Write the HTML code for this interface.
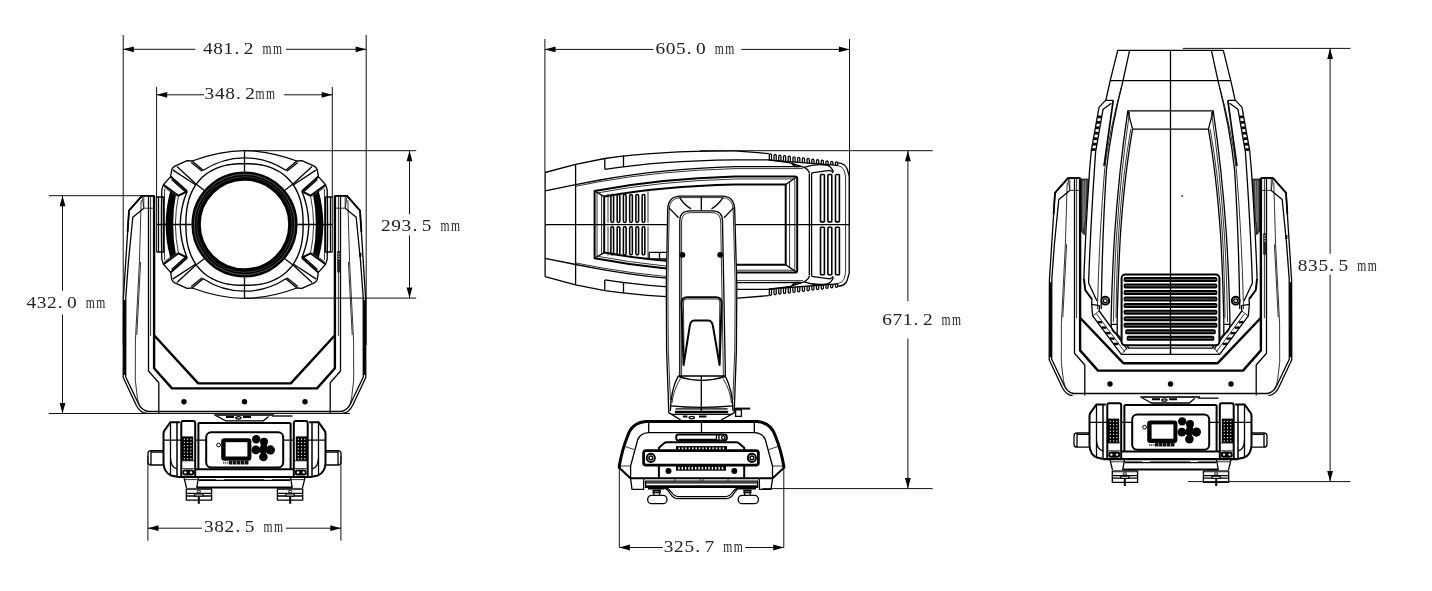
<!DOCTYPE html>
<html><head><meta charset="utf-8"><title>Dimensions</title><style>
html,body{margin:0;padding:0;background:#fff;}
body{width:1432px;height:591px;overflow:hidden;font-family:"Liberation Serif",serif;}
svg{display:block}
.t{fill:none;stroke:#111;stroke-width:.85}
.n{fill:none;stroke:#000;stroke-width:1.3}
.k{fill:none;stroke:#000;stroke-width:2.0}
.h{fill:none;stroke:#000;stroke-width:2.6}
.f{fill:#000;stroke:none}
.w{fill:#fff}
.dim path{fill:none;stroke:#111;stroke-width:1}
.af{fill:#000}
.dt{font-family:"Liberation Serif",serif;fill:#222}
</style></head><body>
<svg width="1432" height="591" viewBox="0 0 1432 591" stroke-linejoin="round" stroke-linecap="butt">
<rect width="1432" height="591" fill="#fff"/>
<g id="headfront">
<path class="n" d="M244.5,150.6 Q219.7,150.8 192.1,161 L187.1,160.6 L174.8,166.1 Q172.4,167.6 171.8,169.4 L170.6,176.6 L163.4,184.7 L161.8,189.8 Q161.4,207 161.4,224.5"/><path class="n" d="M244.5,157.8 Q222,157.9 203.2,170.3 L192.1,161"/><path class="n" d="M202.2,171.2 L191.2,162.6"/><path class="n" d="M176.9,166.5 L196,184 L204.2,190.2"/><path class="n" d="M172.7,169.9 L195.4,184.8"/><path class="k" d="M170.6,176.6 L187.1,191.3"/><path class="n" d="M171.6,179.4 L185.6,191.9"/><path class="k" d="M163.4,184.7 L178.5,195.7 L187.1,191.3"/><path class="t" d="M164.4,187.4 L176.6,196.2"/><path class="k" d="M187.1,191.3 Q180.6,207 180.2,224.5" style="stroke-width:1.4"/><path class="t" d="M178.5,195.7 Q175.6,209 175.4,224.5"/><path class="t" d="M164.6,189 Q164.4,207 164.4,224.5"/><path class="f" d="M170.3,191 Q165.8,207 165.6,224.5 H173.2 Q173.2,209 175.8,195.4 Z"/><path class="n" d="M156.6,197 H163.6 V224.5 M158.5,197 V224.5 M161.6,197 V224.5"/>
<g transform="translate(489.0,0) scale(-1,1)"><path class="n" d="M244.5,150.6 Q219.7,150.8 192.1,161 L187.1,160.6 L174.8,166.1 Q172.4,167.6 171.8,169.4 L170.6,176.6 L163.4,184.7 L161.8,189.8 Q161.4,207 161.4,224.5"/><path class="n" d="M244.5,157.8 Q222,157.9 203.2,170.3 L192.1,161"/><path class="n" d="M202.2,171.2 L191.2,162.6"/><path class="n" d="M176.9,166.5 L196,184 L204.2,190.2"/><path class="n" d="M172.7,169.9 L195.4,184.8"/><path class="k" d="M170.6,176.6 L187.1,191.3"/><path class="n" d="M171.6,179.4 L185.6,191.9"/><path class="k" d="M163.4,184.7 L178.5,195.7 L187.1,191.3"/><path class="t" d="M164.4,187.4 L176.6,196.2"/><path class="k" d="M187.1,191.3 Q180.6,207 180.2,224.5" style="stroke-width:1.4"/><path class="t" d="M178.5,195.7 Q175.6,209 175.4,224.5"/><path class="t" d="M164.6,189 Q164.4,207 164.4,224.5"/><path class="f" d="M170.3,191 Q165.8,207 165.6,224.5 H173.2 Q173.2,209 175.8,195.4 Z"/><path class="n" d="M156.6,197 H163.6 V224.5 M158.5,197 V224.5 M161.6,197 V224.5"/></g>
<g transform="translate(0,449.0) scale(1,-1)"><path class="n" d="M244.5,150.6 Q219.7,150.8 192.1,161 L187.1,160.6 L174.8,166.1 Q172.4,167.6 171.8,169.4 L170.6,176.6 L163.4,184.7 L161.8,189.8 Q161.4,207 161.4,224.5"/><path class="n" d="M244.5,157.8 Q222,157.9 203.2,170.3 L192.1,161"/><path class="n" d="M202.2,171.2 L191.2,162.6"/><path class="n" d="M176.9,166.5 L196,184 L204.2,190.2"/><path class="n" d="M172.7,169.9 L195.4,184.8"/><path class="k" d="M170.6,176.6 L187.1,191.3"/><path class="n" d="M171.6,179.4 L185.6,191.9"/><path class="k" d="M163.4,184.7 L178.5,195.7 L187.1,191.3"/><path class="t" d="M164.4,187.4 L176.6,196.2"/><path class="k" d="M187.1,191.3 Q180.6,207 180.2,224.5" style="stroke-width:1.4"/><path class="t" d="M178.5,195.7 Q175.6,209 175.4,224.5"/><path class="t" d="M164.6,189 Q164.4,207 164.4,224.5"/><path class="f" d="M170.3,191 Q165.8,207 165.6,224.5 H173.2 Q173.2,209 175.8,195.4 Z"/><path class="n" d="M156.6,197 H163.6 V224.5 M158.5,197 V224.5 M161.6,197 V224.5"/></g>
<g transform="translate(489.0,449.0) scale(-1,-1)"><path class="n" d="M244.5,150.6 Q219.7,150.8 192.1,161 L187.1,160.6 L174.8,166.1 Q172.4,167.6 171.8,169.4 L170.6,176.6 L163.4,184.7 L161.8,189.8 Q161.4,207 161.4,224.5"/><path class="n" d="M244.5,157.8 Q222,157.9 203.2,170.3 L192.1,161"/><path class="n" d="M202.2,171.2 L191.2,162.6"/><path class="n" d="M176.9,166.5 L196,184 L204.2,190.2"/><path class="n" d="M172.7,169.9 L195.4,184.8"/><path class="k" d="M170.6,176.6 L187.1,191.3"/><path class="n" d="M171.6,179.4 L185.6,191.9"/><path class="k" d="M163.4,184.7 L178.5,195.7 L187.1,191.3"/><path class="t" d="M164.4,187.4 L176.6,196.2"/><path class="k" d="M187.1,191.3 Q180.6,207 180.2,224.5" style="stroke-width:1.4"/><path class="t" d="M178.5,195.7 Q175.6,209 175.4,224.5"/><path class="t" d="M164.6,189 Q164.4,207 164.4,224.5"/><path class="f" d="M170.3,191 Q165.8,207 165.6,224.5 H173.2 Q173.2,209 175.8,195.4 Z"/><path class="n" d="M156.6,197 H163.6 V224.5 M158.5,197 V224.5 M161.6,197 V224.5"/></g>
<path class="k" d="M303.10,224.50 L303.03,229.70 L302.83,233.76 L302.50,237.46 L302.03,240.92 L301.43,244.21 L300.70,247.35 L299.84,250.35 L298.85,253.23 L297.73,255.99 L296.48,258.62 L295.11,261.14 L293.61,263.55 L292.00,265.83 L290.26,268.00 L288.40,270.05 L286.43,271.97 L284.34,273.78 L282.13,275.46 L279.82,277.01 L277.39,278.43 L274.85,279.73 L272.19,280.89 L269.42,281.92 L266.52,282.81 L263.50,283.57 L260.33,284.19 L256.99,284.68 L253.42,285.02 L249.51,285.23 L244.50,285.30 L239.49,285.23 L235.58,285.02 L232.01,284.68 L228.67,284.19 L225.50,283.57 L222.48,282.81 L219.58,281.92 L216.81,280.89 L214.15,279.73 L211.61,278.43 L209.18,277.01 L206.87,275.46 L204.66,273.78 L202.57,271.97 L200.60,270.05 L198.74,268.00 L197.00,265.83 L195.39,263.55 L193.89,261.14 L192.52,258.62 L191.27,255.99 L190.15,253.23 L189.16,250.35 L188.30,247.35 L187.57,244.21 L186.97,240.92 L186.50,237.46 L186.17,233.76 L185.97,229.70 L185.90,224.50 L185.97,219.30 L186.17,215.24 L186.50,211.54 L186.97,208.08 L187.57,204.79 L188.30,201.65 L189.16,198.65 L190.15,195.77 L191.27,193.01 L192.52,190.38 L193.89,187.86 L195.39,185.45 L197.00,183.17 L198.74,181.00 L200.60,178.95 L202.57,177.03 L204.66,175.22 L206.87,173.54 L209.18,171.99 L211.61,170.57 L214.15,169.27 L216.81,168.11 L219.58,167.08 L222.48,166.19 L225.50,165.43 L228.67,164.81 L232.01,164.32 L235.58,163.98 L239.49,163.77 L244.50,163.70 L249.51,163.77 L253.42,163.98 L256.99,164.32 L260.33,164.81 L263.50,165.43 L266.52,166.19 L269.42,167.08 L272.19,168.11 L274.85,169.27 L277.39,170.57 L279.82,171.99 L282.13,173.54 L284.34,175.22 L286.43,177.03 L288.40,178.95 L290.26,181.00 L292.00,183.17 L293.61,185.45 L295.11,187.86 L296.48,190.38 L297.73,193.01 L298.85,195.77 L299.84,198.65 L300.70,201.65 L301.43,204.79 L302.03,208.08 L302.50,211.54 L302.83,215.24 L303.03,219.30 L303.10,224.50 Z" style="stroke-width:1.4"/>
<circle cx="244.5" cy="224.5" r="48.4" fill="none" stroke="#000" stroke-width="9.4"/>
<circle cx="244.5" cy="224.5" r="50.3" fill="none" stroke="#aaa" stroke-width="0.5"/>
<circle cx="244.5" cy="224.5" r="47.8" fill="none" stroke="#888" stroke-width="0.4"/>
<path class="n" d="M244.5,150.6 V171.5 M244.5,277.5 V298.2 M156.6,224.5 H191.5 M297.5,224.5 H332.3"/>
<path class="k" d="M154.3,335.5 L198.2,383.4 H290.8 L334.7,335.5" style="stroke-width:2.4"/>
</g>
<g id="lower">
<path class="n" d="M142,195.7 H154.3 M142,195.7 L129,210.4 L125.2,270 L123.4,298 L123.2,377.5 L136.4,405.5 Q140,412.6 146.5,413.4"/><path class="k" d="M154.3,195.9 H142 L129,210.6 L127.6,232" style="stroke-width:1.8"/><path class="n" d="M143.8,208.2 L132.8,217.3 L128.4,262 L125.8,297 L125.7,377 L138.6,404 Q141.5,410 147.5,411.4"/><path class="k" d="M124.5,300 V375" style="stroke-width:2.2"/><path class="t" d="M142,195.7 L143.8,208.2 H154.3 M143.8,208.2 V195.7"/><path class="t" d="M141.2,200 L139.4,262 L135.4,341 L135.3,380 L137.4,398 Q138.6,405 141.5,408.5"/><path class="t" d="M140.6,262 L136.8,335"/><path class="n" d="M148.5,195.7 V371 L158.8,382.8 V413.4"/><path class="t" d="M150.6,195.7 V336"/>
<g transform="translate(489.0,0) scale(-1,1)"><path class="n" d="M142,195.7 H154.3 M142,195.7 L129,210.4 L125.2,270 L123.4,298 L123.2,377.5 L136.4,405.5 Q140,412.6 146.5,413.4"/><path class="k" d="M154.3,195.9 H142 L129,210.6 L127.6,232" style="stroke-width:1.8"/><path class="n" d="M143.8,208.2 L132.8,217.3 L128.4,262 L125.8,297 L125.7,377 L138.6,404 Q141.5,410 147.5,411.4"/><path class="k" d="M124.5,300 V375" style="stroke-width:2.2"/><path class="t" d="M142,195.7 L143.8,208.2 H154.3 M143.8,208.2 V195.7"/><path class="t" d="M141.2,200 L139.4,262 L135.4,341 L135.3,380 L137.4,398 Q138.6,405 141.5,408.5"/><path class="t" d="M140.6,262 L136.8,335"/><path class="n" d="M148.5,195.7 V371 L158.8,382.8 V413.4"/><path class="t" d="M150.6,195.7 V336"/></g>
<rect x="337.2" y="251" width="3.4" height="21.6" rx="0.8" fill="#222"/>
<rect x="338.2" y="253.2" width="1.5" height="1" fill="#ddd"/>
<rect x="338.2" y="255.7" width="1.5" height="1" fill="#ddd"/>
<rect x="338.2" y="258.2" width="1.5" height="1" fill="#ddd"/>
<path class="k" d="M360.4,252.8 V256.8"/>
<path class="k" d="M154.1,195.7 V368.2 L172,388.4 H317 L334.9,368.2 V195.7" style="stroke-width:2.4"/>
<path class="k" d="M146,411.4 H343" style="stroke-width:1.5"/>
<circle cx="184.0" cy="401.8" r="2.7" class="f"/>
<circle cx="244.5" cy="401.8" r="2.7" class="f"/>
<circle cx="305.0" cy="401.8" r="2.7" class="f"/>
<path class="n" d="M214.2,414.6 L225.4,420.8 H263.4 L268.6,416.4"/>
<path class="k" d="M215,414.9 H274" style="stroke:#333"/>
<path d="M272,416 H292.5" stroke="#333" stroke-width="1.7" fill="none"/>
<ellipse cx="238.4" cy="417.8" rx="2.6" ry="1.2" class="n"/>
<path class="k" d="M226,417 H234 M243,417 H251"/>
<path class="k" d="M179.8,422.2 H170.5 L164.4,430.6 Q163.5,432 163.5,434 V463 Q164,472.6 171,475.4 L177.2,476.8"/><path class="n" d="M170.5,422.2 V475.2"/><path class="k" d="M177,422.2 V476.8" style="stroke-width:1.5"/><path class="k" d="M181.3,476.8 V423 Q181.3,421 183.3,421 H193.2 Q195.2,421 195.2,423 V476.8"/><path class="k" d="M198.4,422.9 V469.2"/><path class="n" d="M163.5,440.1 H181.3 M195.2,440.1 H206.3"/><path class="t" d="M181.3,460.8 H195.2 M181.3,468.6 H195.2"/><path class="n" d="M170.5,458 Q170.8,467.4 177,468.9"/><path class="n" d="M163.5,450.6 H151.2 Q148,450.6 148,453.6 V462 Q148,465 151.2,465 H163.5 M151,450.6 V465 M163.5,452.2 H151"/><rect x="182.4" y="469.4" width="11.8" height="6.2" rx="2.4" class="f"/><circle cx="185.4" cy="472.4" r="1.2" fill="#fff"/><circle cx="191" cy="472.4" r="1.2" fill="#fff"/><path class="n" d="M184,477.6 L186.5,487.8 M198.4,477.6 L196.7,487.8"/><path class="k" d="M186.5,489 H211.5" style="stroke-width:2.2;stroke:#444"/><path class="n" d="M186.3,488.6 V500.2 H211.6 V488.6 M186.3,493.4 H211.6 M186.3,496 H211.6"/><path class="k" d="M198.8,494 V503.8"/><rect x="194.6" y="493.8" width="8.6" height="2.4" rx="1.2" class="n w"/><rect x="197.3" y="490.6" width="3" height="2" fill="#fff" stroke="#000" stroke-width="0.8"/>
<g transform="translate(489.0,0) scale(-1,1)"><path class="k" d="M179.8,422.2 H170.5 L164.4,430.6 Q163.5,432 163.5,434 V463 Q164,472.6 171,475.4 L177.2,476.8"/><path class="n" d="M170.5,422.2 V475.2"/><path class="k" d="M177,422.2 V476.8" style="stroke-width:1.5"/><path class="k" d="M181.3,476.8 V423 Q181.3,421 183.3,421 H193.2 Q195.2,421 195.2,423 V476.8"/><path class="k" d="M198.4,422.9 V469.2"/><path class="n" d="M163.5,440.1 H181.3 M195.2,440.1 H206.3"/><path class="t" d="M181.3,460.8 H195.2 M181.3,468.6 H195.2"/><path class="n" d="M170.5,458 Q170.8,467.4 177,468.9"/><path class="n" d="M163.5,450.6 H151.2 Q148,450.6 148,453.6 V462 Q148,465 151.2,465 H163.5 M151,450.6 V465 M163.5,452.2 H151"/><rect x="182.4" y="469.4" width="11.8" height="6.2" rx="2.4" class="f"/><circle cx="185.4" cy="472.4" r="1.2" fill="#fff"/><circle cx="191" cy="472.4" r="1.2" fill="#fff"/><path class="n" d="M184,477.6 L186.5,487.8 M198.4,477.6 L196.7,487.8"/><path class="k" d="M186.5,489 H211.5" style="stroke-width:2.2;stroke:#444"/><path class="n" d="M186.3,488.6 V500.2 H211.6 V488.6 M186.3,493.4 H211.6 M186.3,496 H211.6"/><path class="k" d="M198.8,494 V503.8"/><rect x="194.6" y="493.8" width="8.6" height="2.4" rx="1.2" class="n w"/><rect x="197.3" y="490.6" width="3" height="2" fill="#fff" stroke="#000" stroke-width="0.8"/></g>
<rect x="181.9" y="436.4" width="11.3" height="24.3" fill="#000"/><rect x="183.80" y="438.60" width="1.1" height="1.2" fill="#fff"/><rect x="187.05" y="438.60" width="1.1" height="1.2" fill="#fff"/><rect x="190.30" y="438.60" width="1.1" height="1.2" fill="#fff"/><rect x="183.80" y="441.85" width="1.1" height="1.2" fill="#fff"/><rect x="187.05" y="441.85" width="1.1" height="1.2" fill="#fff"/><rect x="190.30" y="441.85" width="1.1" height="1.2" fill="#fff"/><rect x="183.80" y="445.10" width="1.1" height="1.2" fill="#fff"/><rect x="187.05" y="445.10" width="1.1" height="1.2" fill="#fff"/><rect x="190.30" y="445.10" width="1.1" height="1.2" fill="#fff"/><rect x="183.80" y="448.35" width="1.1" height="1.2" fill="#fff"/><rect x="187.05" y="448.35" width="1.1" height="1.2" fill="#fff"/><rect x="190.30" y="448.35" width="1.1" height="1.2" fill="#fff"/><rect x="183.80" y="451.60" width="1.1" height="1.2" fill="#fff"/><rect x="187.05" y="451.60" width="1.1" height="1.2" fill="#fff"/><rect x="190.30" y="451.60" width="1.1" height="1.2" fill="#fff"/><rect x="183.80" y="454.85" width="1.1" height="1.2" fill="#fff"/><rect x="187.05" y="454.85" width="1.1" height="1.2" fill="#fff"/><rect x="190.30" y="454.85" width="1.1" height="1.2" fill="#fff"/><rect x="183.80" y="458.10" width="1.1" height="1.2" fill="#fff"/><rect x="187.05" y="458.10" width="1.1" height="1.2" fill="#fff"/><rect x="190.30" y="458.10" width="1.1" height="1.2" fill="#fff"/><rect x="295.8" y="436.4" width="11.3" height="24.3" fill="#000"/><rect x="297.70" y="438.60" width="1.1" height="1.2" fill="#fff"/><rect x="300.95" y="438.60" width="1.1" height="1.2" fill="#fff"/><rect x="304.20" y="438.60" width="1.1" height="1.2" fill="#fff"/><rect x="297.70" y="441.85" width="1.1" height="1.2" fill="#fff"/><rect x="300.95" y="441.85" width="1.1" height="1.2" fill="#fff"/><rect x="304.20" y="441.85" width="1.1" height="1.2" fill="#fff"/><rect x="297.70" y="445.10" width="1.1" height="1.2" fill="#fff"/><rect x="300.95" y="445.10" width="1.1" height="1.2" fill="#fff"/><rect x="304.20" y="445.10" width="1.1" height="1.2" fill="#fff"/><rect x="297.70" y="448.35" width="1.1" height="1.2" fill="#fff"/><rect x="300.95" y="448.35" width="1.1" height="1.2" fill="#fff"/><rect x="304.20" y="448.35" width="1.1" height="1.2" fill="#fff"/><rect x="297.70" y="451.60" width="1.1" height="1.2" fill="#fff"/><rect x="300.95" y="451.60" width="1.1" height="1.2" fill="#fff"/><rect x="304.20" y="451.60" width="1.1" height="1.2" fill="#fff"/><rect x="297.70" y="454.85" width="1.1" height="1.2" fill="#fff"/><rect x="300.95" y="454.85" width="1.1" height="1.2" fill="#fff"/><rect x="304.20" y="454.85" width="1.1" height="1.2" fill="#fff"/><rect x="297.70" y="458.10" width="1.1" height="1.2" fill="#fff"/><rect x="300.95" y="458.10" width="1.1" height="1.2" fill="#fff"/><rect x="304.20" y="458.10" width="1.1" height="1.2" fill="#fff"/>
<path class="k" d="M198.4,422.9 H290.6"/>
<path class="k" d="M195.2,469.2 H293.8"/>
<path class="h" d="M177.2,477 H311.8" style="stroke-width:2.2"/>
<path class="t" d="M184,479.6 H216 M224,479.6 H264 M272,479.6 H305"/>
<rect x="206.2" y="432.2" width="77" height="35.4" rx="5" class="k" style="stroke-width:2"/>
<rect x="221.2" y="438.2" width="30.2" height="22.6" rx="3.2" class="f"/>
<rect x="225.6" y="442.2" width="21.8" height="14.3" fill="#fff"/>
<circle cx="218.6" cy="445" r="1.9" class="n" style="stroke-width:1"/>
<path d="M223,462.8 H229" stroke="#666" stroke-width="2" fill="none" stroke-dasharray="1.2 .6"/>
<path d="M229,462.6 H249" stroke="#111" stroke-width="3.6" fill="none" stroke-dasharray="3.4 0.5"/>
<circle cx="256.2" cy="439.2" r="4.2" class="f"/>
<circle cx="264.0" cy="441.8" r="4.0" class="f"/>
<circle cx="255.9" cy="449.9" r="4.4" class="f"/>
<circle cx="270.4" cy="449.9" r="4.6" class="f"/>
<circle cx="263.4" cy="456.9" r="4.3" class="f"/>
<circle cx="263.4" cy="449.6" r="4.3" class="f"/>
<circle cx="263.8" cy="445.6" r="3.2" class="f"/>
<path class="n" d="M199,480.4 H290"/><path class="k" d="M197,487.4 H292"/>
</g>
<g id="mid">
<path class="n" d="M545.1,172.5 L575.6,164.4 L604.8,158.5 Q660,150.6 735,150.9 L768.9,153.6"/><path class="n" d="M604.8,158.5 V169.3 M623.5,155.6 V167 "/><path class="n" d="M604.8,169.3 Q660,160.6 735,159.8 L768.9,159.9 L790.3,162.8 L804,167.4 Q808.6,169.5 809.5,173.5"/><path class="n" d="M791.5,163 Q795.6,168.5 800.5,165.8"/><path class="n" d="M545.1,190.9 L575.6,184.7 L600,180 Q660,169 735,166.6 L800.9,166.7"/><path class="t" d="M575.6,186.3 L600,181.6 Q660,170.8 735,168.6 L803,168.6"/><path class="n" d="M575.6,164.4 V224.6"/><path class="n" d="M545.1,172.5 V224.6"/><path class="k" d="M594.6,224.6 V191 Q660,178.6 735,176.6 H795 Q797.2,176.6 797.2,179 V224.6"/><path class="k" d="M604.2,224.6 V196.6 Q660,186.4 735,184.5 H785.7 V224.6"/><path class="t" d="M597,224.6 V193 Q660,181 735,179 H793.5 Q794.8,179 794.8,180.5 V224.6"/><path class="t" d="M789.6,224.6 V182 M601.6,224.6 V195"/><path class="n" d="M594.6,191 L604.2,196.6 M797,176.8 L785.7,184.5"/><rect x="610.90" y="194.4" width="2.7" height="28" rx="1.3" class="n" style="stroke-width:1.55"/><rect x="617.15" y="194.4" width="2.7" height="28" rx="1.3" class="n" style="stroke-width:1.55"/><rect x="623.40" y="194.4" width="2.7" height="28" rx="1.3" class="n" style="stroke-width:1.55"/><rect x="629.65" y="194.4" width="2.7" height="28" rx="1.3" class="n" style="stroke-width:1.55"/><rect x="635.90" y="194.4" width="2.7" height="28" rx="1.3" class="n" style="stroke-width:1.55"/><rect x="642.15" y="194.4" width="2.7" height="28" rx="1.3" class="n" style="stroke-width:1.55"/><path class="t" d="M608,193.6 V222.8 M648,190 V222.8"/><path class="n" d="M809.4,224.6 L809.3,174 M811.6,224.6 L811.6,173"/><path class="n" d="M811.6,172.8 L829.8,170.4 Q832,171 833,173"/><path class="n" d="M804,167.4 Q815,163.5 826.8,165.2 Q831,166 833.5,172"/><path class="n" d="M837.5,162.9 Q845.5,163.4 847.2,169 L849.2,176 V224.6"/><path class="t" d="M835,165.4 Q842.5,165.6 844.4,171 L845.6,177 V224.6"/><rect x="820.50" y="174.5" width="3.9" height="47.4" rx="0.8" class="n" style="stroke-width:1.6"/><rect x="827.90" y="174.5" width="3.9" height="47.4" rx="0.8" class="n" style="stroke-width:1.6"/><rect x="835.50" y="174.5" width="3.9" height="47.4" rx="0.8" class="n" style="stroke-width:1.6"/><path class="n" d="M769.30,160.40 V155.00 Q769.30,153.90 770.40,153.90 Q771.50,153.90 771.50,155.00 V160.40" style="stroke-width:1.25"/><path class="n" d="M774.02,160.76 V155.57 Q774.02,154.47 775.12,154.47 Q776.22,154.47 776.22,155.57 V160.76" style="stroke-width:1.25"/><path class="n" d="M778.74,161.11 V156.14 Q778.74,155.04 779.84,155.04 Q780.94,155.04 780.94,156.14 V161.11" style="stroke-width:1.25"/><path class="n" d="M783.46,161.47 V156.71 Q783.46,155.61 784.56,155.61 Q785.66,155.61 785.66,156.71 V161.47" style="stroke-width:1.25"/><path class="n" d="M788.18,161.83 V157.29 Q788.18,156.19 789.28,156.19 Q790.38,156.19 790.38,157.29 V161.83" style="stroke-width:1.25"/><path class="n" d="M792.90,162.19 V157.86 Q792.90,156.76 794.00,156.76 Q795.10,156.76 795.10,157.86 V162.19" style="stroke-width:1.25"/><path class="n" d="M797.62,162.54 V158.43 Q797.62,157.33 798.72,157.33 Q799.82,157.33 799.82,158.43 V162.54" style="stroke-width:1.25"/><path class="n" d="M802.34,162.90 V159.00 Q802.34,157.90 803.44,157.90 Q804.54,157.90 804.54,159.00 V162.90" style="stroke-width:1.25"/><path class="n" d="M807.06,163.26 V159.57 Q807.06,158.47 808.16,158.47 Q809.26,158.47 809.26,159.57 V163.26" style="stroke-width:1.25"/><path class="n" d="M811.78,163.61 V160.14 Q811.78,159.04 812.88,159.04 Q813.98,159.04 813.98,160.14 V163.61" style="stroke-width:1.25"/><path class="n" d="M816.50,163.97 V160.71 Q816.50,159.61 817.60,159.61 Q818.70,159.61 818.70,160.71 V163.97" style="stroke-width:1.25"/><path class="n" d="M821.22,164.33 V161.29 Q821.22,160.19 822.32,160.19 Q823.42,160.19 823.42,161.29 V164.33" style="stroke-width:1.25"/><path class="n" d="M825.94,164.69 V161.86 Q825.94,160.76 827.04,160.76 Q828.14,160.76 828.14,161.86 V164.69" style="stroke-width:1.25"/><path class="n" d="M830.66,165.04 V162.43 Q830.66,161.33 831.76,161.33 Q832.86,161.33 832.86,162.43 V165.04" style="stroke-width:1.25"/><path class="n" d="M835.38,165.40 V163.00 Q835.38,161.90 836.48,161.90 Q837.58,161.90 837.58,163.00 V165.40" style="stroke-width:1.25"/><path class="n" d="M768.9,160.2 L838,165.4"/>
<g transform="translate(0,449.2) scale(1,-1)"><path class="n" d="M545.1,172.5 L575.6,164.4 L604.8,158.5 Q660,150.6 735,150.9 L768.9,153.6"/><path class="n" d="M604.8,158.5 V169.3 M623.5,155.6 V167 "/><path class="n" d="M604.8,169.3 Q660,160.6 735,159.8 L768.9,159.9 L790.3,162.8 L804,167.4 Q808.6,169.5 809.5,173.5"/><path class="n" d="M791.5,163 Q795.6,168.5 800.5,165.8"/><path class="n" d="M545.1,190.9 L575.6,184.7 L600,180 Q660,169 735,166.6 L800.9,166.7"/><path class="t" d="M575.6,186.3 L600,181.6 Q660,170.8 735,168.6 L803,168.6"/><path class="n" d="M575.6,164.4 V224.6"/><path class="n" d="M545.1,172.5 V224.6"/><path class="k" d="M594.6,224.6 V191 Q660,178.6 735,176.6 H795 Q797.2,176.6 797.2,179 V224.6"/><path class="k" d="M604.2,224.6 V196.6 Q660,186.4 735,184.5 H785.7 V224.6"/><path class="t" d="M597,224.6 V193 Q660,181 735,179 H793.5 Q794.8,179 794.8,180.5 V224.6"/><path class="t" d="M789.6,224.6 V182 M601.6,224.6 V195"/><path class="n" d="M594.6,191 L604.2,196.6 M797,176.8 L785.7,184.5"/><rect x="610.90" y="194.4" width="2.7" height="28" rx="1.3" class="n" style="stroke-width:1.55"/><rect x="617.15" y="194.4" width="2.7" height="28" rx="1.3" class="n" style="stroke-width:1.55"/><rect x="623.40" y="194.4" width="2.7" height="28" rx="1.3" class="n" style="stroke-width:1.55"/><rect x="629.65" y="194.4" width="2.7" height="28" rx="1.3" class="n" style="stroke-width:1.55"/><rect x="635.90" y="194.4" width="2.7" height="28" rx="1.3" class="n" style="stroke-width:1.55"/><rect x="642.15" y="194.4" width="2.7" height="28" rx="1.3" class="n" style="stroke-width:1.55"/><path class="t" d="M608,193.6 V222.8 M648,190 V222.8"/><path class="n" d="M809.4,224.6 L809.3,174 M811.6,224.6 L811.6,173"/><path class="n" d="M811.6,172.8 L829.8,170.4 Q832,171 833,173"/><path class="n" d="M804,167.4 Q815,163.5 826.8,165.2 Q831,166 833.5,172"/><path class="n" d="M837.5,162.9 Q845.5,163.4 847.2,169 L849.2,176 V224.6"/><path class="t" d="M835,165.4 Q842.5,165.6 844.4,171 L845.6,177 V224.6"/><rect x="820.50" y="174.5" width="3.9" height="47.4" rx="0.8" class="n" style="stroke-width:1.6"/><rect x="827.90" y="174.5" width="3.9" height="47.4" rx="0.8" class="n" style="stroke-width:1.6"/><rect x="835.50" y="174.5" width="3.9" height="47.4" rx="0.8" class="n" style="stroke-width:1.6"/><path class="n" d="M769.30,160.40 V155.00 Q769.30,153.90 770.40,153.90 Q771.50,153.90 771.50,155.00 V160.40" style="stroke-width:1.25"/><path class="n" d="M774.02,160.76 V155.57 Q774.02,154.47 775.12,154.47 Q776.22,154.47 776.22,155.57 V160.76" style="stroke-width:1.25"/><path class="n" d="M778.74,161.11 V156.14 Q778.74,155.04 779.84,155.04 Q780.94,155.04 780.94,156.14 V161.11" style="stroke-width:1.25"/><path class="n" d="M783.46,161.47 V156.71 Q783.46,155.61 784.56,155.61 Q785.66,155.61 785.66,156.71 V161.47" style="stroke-width:1.25"/><path class="n" d="M788.18,161.83 V157.29 Q788.18,156.19 789.28,156.19 Q790.38,156.19 790.38,157.29 V161.83" style="stroke-width:1.25"/><path class="n" d="M792.90,162.19 V157.86 Q792.90,156.76 794.00,156.76 Q795.10,156.76 795.10,157.86 V162.19" style="stroke-width:1.25"/><path class="n" d="M797.62,162.54 V158.43 Q797.62,157.33 798.72,157.33 Q799.82,157.33 799.82,158.43 V162.54" style="stroke-width:1.25"/><path class="n" d="M802.34,162.90 V159.00 Q802.34,157.90 803.44,157.90 Q804.54,157.90 804.54,159.00 V162.90" style="stroke-width:1.25"/><path class="n" d="M807.06,163.26 V159.57 Q807.06,158.47 808.16,158.47 Q809.26,158.47 809.26,159.57 V163.26" style="stroke-width:1.25"/><path class="n" d="M811.78,163.61 V160.14 Q811.78,159.04 812.88,159.04 Q813.98,159.04 813.98,160.14 V163.61" style="stroke-width:1.25"/><path class="n" d="M816.50,163.97 V160.71 Q816.50,159.61 817.60,159.61 Q818.70,159.61 818.70,160.71 V163.97" style="stroke-width:1.25"/><path class="n" d="M821.22,164.33 V161.29 Q821.22,160.19 822.32,160.19 Q823.42,160.19 823.42,161.29 V164.33" style="stroke-width:1.25"/><path class="n" d="M825.94,164.69 V161.86 Q825.94,160.76 827.04,160.76 Q828.14,160.76 828.14,161.86 V164.69" style="stroke-width:1.25"/><path class="n" d="M830.66,165.04 V162.43 Q830.66,161.33 831.76,161.33 Q832.86,161.33 832.86,162.43 V165.04" style="stroke-width:1.25"/><path class="n" d="M835.38,165.40 V163.00 Q835.38,161.90 836.48,161.90 Q837.58,161.90 837.58,163.00 V165.40" style="stroke-width:1.25"/><path class="n" d="M768.9,160.2 L838,165.4"/></g>
<path class="n" d="M545.1,224.6 H849.4"/>
<path class="n" d="M649.2,252.4 H667 M649.2,259 H667 M649.2,252.4 V259 M659.5,252.4 V259"/>
<path class="n w" d="M667.7,210 Q667.9,196.1 680.5,196.1 H722 Q734.5,196.1 734.7,210 L736.8,285 L736.4,350 L734.2,412.6 L731.4,414.4 H671.6 L668.8,412.6 L666.6,350 L666.3,285 Z"/>
<path class="n" d="M679.8,376.4 L679.8,221 Q679.8,210.9 690,210.9 H712.4 Q722.5,210.9 722.5,221 L725.4,376.4"/>
<path class="t" d="M681.6,376.4 L681.6,222 Q681.6,212.6 690.5,212.6 H712 Q720.7,212.6 720.7,222 L723.4,376.4"/>
<path class="t" d="M669.2,210 Q669.4,197.6 681,197.6 H721.5 Q733,197.6 733.2,210 L735.2,285 L734.8,350 L732.8,400"/>
<path class="t" d="M669.2,210 L667.9,285 L668.3,350 L670.4,400"/>
<path class="n" d="M701.3,196 V210.5 M679.6,197.4 Q683.5,204.5 691.1,208.9 M722.9,197.4 Q719,204.5 711.5,208.9 M668.8,207.6 L678.6,217.7 M733.8,207.6 L724,217.7"/>
<circle cx="682.4" cy="254.8" r="2.9" class="f"/><circle cx="720.2" cy="254.8" r="2.9" class="f"/>
<path class="k" d="M681.5,303 Q681.5,297.2 687.2,297.2 H716 Q721.6,297.2 721.6,303 L719.6,365 L713,326.4 Q712,320.6 708.4,320.6 H694.2 Q690.6,320.6 689.7,326.4 L683.6,365 Z"/>
<path class="t" d="M683.4,302 Q683.4,299 686.4,299 H716.8 Q719.8,299 719.8,302 L719.2,352"/>
<path class="t" d="M683.4,302 L684,352"/>
<path class="n" d="M678,376 H725.4 M678.6,376.6 Q701.5,384 724.8,376.6 M701.3,376.4 V411"/>
<path class="n" d="M678,376.4 Q670.8,390 670.4,411 M725.4,376.4 Q732.6,390 733,411"/>
<path class="t" d="M680.5,378.4 Q673,391 672,403 M723,378.4 Q730.6,391 731.4,403"/>
<path class="n" d="M670.6,405.8 Q701.5,408.8 732.6,405.8"/>
<path class="n" d="M675.5,408.9 H727.6"/>
<path class="h" d="M675,412 H728.2" style="stroke-width:2.3"/>
<path class="n" d="M671.6,414.4 L680.8,420 M731.4,414.4 L721,420"/>
<path class="k" d="M682.9,416.4 H687.4 M699,416.4 H706.4"/>
<ellipse cx="691.7" cy="417.6" rx="2.6" ry="1.3" class="n"/>
<path class="k" d="M734.6,408.6 H750.2"/>
<rect x="735.6" y="409.8" width="5.8" height="6.6" class="n"/>
<path class="h" d="M619.3,468.5 L619.3,466 Q622,450 627.6,436 Q632,422.6 646,421.6 H757 Q771,422.6 775.4,436 Q781,450 783.8,466 L783.8,468.5" style="stroke-width:3"/>
<path class="k" d="M619.4,468 L630.5,478.2 H772.6 L783.7,468"/>
<path class="n" d="M648.7,421.3 V432.6 H754.3 V421.3 M701.5,421.3 V432.6"/>
<path class="n" d="M648.7,432.6 Q640,433 637.6,440 L630.6,466 L630.6,478"/>
<path class="n" d="M754.3,432.6 Q763,433 765.4,440 L772.5,466 L772.5,478"/>
<path class="t" d="M625,446.5 L634,449.5 M778,446.5 L769,449.5 M620,466 L630.6,466 M783,466 L772.5,466"/>
<rect x="676.2" y="434.6" width="50.6" height="5.8" rx="2.4" class="k"/>
<path class="h" d="M679,440 H716"/>
<circle cx="723.3" cy="437.6" r="1.7" class="n"/><path class="n" d="M716.5,435 V440 M719,435 V440"/>
<path class="k" d="M658.9,451 V447.7 L664,443.2 Q665,442.2 667,442.2 H736 Q738,442.2 739,443.2 L744.2,447.7 V451"/>
<rect x="676" y="446.1" width="51" height="4.9" class="f"/>
<rect x="678.40" y="447.4" width="1.5" height="2.6" fill="#fff"/>
<rect x="681.80" y="447.4" width="1.5" height="2.6" fill="#fff"/>
<rect x="685.20" y="447.4" width="1.5" height="2.6" fill="#fff"/>
<rect x="688.60" y="447.4" width="1.5" height="2.6" fill="#fff"/>
<rect x="692.00" y="447.4" width="1.5" height="2.6" fill="#fff"/>
<rect x="695.40" y="447.4" width="1.5" height="2.6" fill="#fff"/>
<rect x="698.80" y="447.4" width="1.5" height="2.6" fill="#fff"/>
<rect x="702.20" y="447.4" width="1.5" height="2.6" fill="#fff"/>
<rect x="705.60" y="447.4" width="1.5" height="2.6" fill="#fff"/>
<rect x="709.00" y="447.4" width="1.5" height="2.6" fill="#fff"/>
<rect x="712.40" y="447.4" width="1.5" height="2.6" fill="#fff"/>
<rect x="715.80" y="447.4" width="1.5" height="2.6" fill="#fff"/>
<rect x="719.20" y="447.4" width="1.5" height="2.6" fill="#fff"/>
<rect x="722.60" y="447.4" width="1.5" height="2.6" fill="#fff"/>
<rect x="643.6" y="450.6" width="114.8" height="14.6" rx="2.4" class="h w" style="stroke-width:2.8"/>
<circle cx="650.8" cy="457.9" r="4.1" fill="#fff" stroke="#000" stroke-width="1.9"/>
<circle cx="650.8" cy="457.9" r="1.9" fill="#fff" stroke="#000" stroke-width="1.5"/>
<circle cx="751.9" cy="457.9" r="4.1" fill="#fff" stroke="#000" stroke-width="1.9"/>
<circle cx="751.9" cy="457.9" r="1.9" fill="#fff" stroke="#000" stroke-width="1.5"/>
<path class="k" d="M658.9,465 V477.4 M744.2,465 V477.4"/>
<rect x="676" y="465.6" width="50" height="5.1" class="f"/>
<rect x="678.20" y="466.9" width="1.5" height="2.6" fill="#fff"/>
<rect x="681.55" y="466.9" width="1.5" height="2.6" fill="#fff"/>
<rect x="684.90" y="466.9" width="1.5" height="2.6" fill="#fff"/>
<rect x="688.25" y="466.9" width="1.5" height="2.6" fill="#fff"/>
<rect x="691.60" y="466.9" width="1.5" height="2.6" fill="#fff"/>
<rect x="694.95" y="466.9" width="1.5" height="2.6" fill="#fff"/>
<rect x="698.30" y="466.9" width="1.5" height="2.6" fill="#fff"/>
<rect x="701.65" y="466.9" width="1.5" height="2.6" fill="#fff"/>
<rect x="705.00" y="466.9" width="1.5" height="2.6" fill="#fff"/>
<rect x="708.35" y="466.9" width="1.5" height="2.6" fill="#fff"/>
<rect x="711.70" y="466.9" width="1.5" height="2.6" fill="#fff"/>
<rect x="715.05" y="466.9" width="1.5" height="2.6" fill="#fff"/>
<rect x="718.40" y="466.9" width="1.5" height="2.6" fill="#fff"/>
<rect x="721.75" y="466.9" width="1.5" height="2.6" fill="#fff"/>
<circle cx="668.5" cy="471" r="3" class="f"/><circle cx="734.3" cy="471" r="3" class="f"/>
<path class="n" d="M630.5,478.2 L632,489.3 H643.6 L643.8,478.2 M772.6,478.2 L771,489.3 H759.5 L759.3,478.2"/>
<path class="n" d="M645.6,481.2 H757.6 V487.4 H645.6 Z M645.6,482.8 H757.6"/>
<path class="k" d="M645.6,486.2 H757.6"/>
<path class="k" d="M648,488.6 H664 M739,488.6 H756"/>
<path class="t" d="M675,478.2 V481.2 M700,478.2 V481.2 M703,478.2 V481.2 M728,478.2 V481.2"/>
<path class="n" d="M663.6,487.6 Q667.5,489 669.5,492.5 Q673,498.6 677.6,498.6 H726.4 Q731,498.6 734.5,492.5 Q736.5,489 740.4,487.6"/>
<path class="n" d="M666,487.6 Q669.5,489 671.3,492 Q674.5,496.6 678.4,496.6 H725.6 Q729.5,496.6 732.7,492 Q734.5,489 738,487.6"/>
<rect x="647.7" y="495.4" width="19.3" height="8.3" rx="4" class="n"/>
<path class="n" d="M653.9,490.4 V495.4 M659.5,490.4 V495.4 M652.4,492.6 H661.0"/>
<path class="k" d="M652.4,490.6 H661.0"/>
<rect x="738.2" y="495.4" width="20.2" height="8.3" rx="4" class="n"/>
<path class="n" d="M744.7,490.4 V495.4 M750.1,490.4 V495.4 M743.2,492.6 H751.6"/>
<path class="k" d="M743.2,490.6 H751.6"/>
</g>
<g id="headrear">
<path class="n" d="M1170.5,50.3 H1117.7 L1110.2,80.7 L1105.8,100.5 M1110.2,80.7 H1170.5"/><path class="n" d="M1129.6,50.3 L1123,80.7 Q1111,128 1106.4,170 Q1102.4,232 1101.2,309"/><path class="t" d="M1121.2,88 Q1109.4,130 1104.6,170 Q1099.4,232 1097.4,309"/><path class="n" d="M1105.5,100.4 H1113.2 M1105.5,100.4 L1099,107.4 L1091.3,150.7 L1089.6,170 Q1085.6,230 1083.9,278.5"/><path class="n" d="M1111.4,103.3 L1103.1,109.2 L1095.6,151.9 L1094.4,170 Q1090.4,230 1088.6,283 L1097,301"/><path class="k" d="M1113.2,100.4 L1104,166" style="stroke-width:1.7"/><path class="k" d="M1097.3,116.9 h4.3" style="stroke-width:2.7"/><path class="k" d="M1096.3,122.4 h4.3" style="stroke-width:2.7"/><path class="k" d="M1095.4,127.8 h4.3" style="stroke-width:2.7"/><path class="k" d="M1094.4,133.2 h4.3" style="stroke-width:2.7"/><path class="k" d="M1093.4,138.7 h4.3" style="stroke-width:2.7"/><path class="k" d="M1092.5,144.2 h4.3" style="stroke-width:2.7"/><path class="k" d="M1091.5,149.6 h4.3" style="stroke-width:2.7"/><path class="n" d="M1170.5,110.8 H1127.8 L1132.6,129.1 H1170.5"/><path class="n" d="M1127.8,110.8 Q1119,170 1114.6,235 Q1112.4,270 1111.1,318"/><path class="n" d="M1132.6,129.1 Q1124.5,175 1120.4,235 Q1118.4,270 1117.2,318"/><path class="t" d="M1129.6,112 Q1121,170 1116.6,235 Q1114.4,270 1113.4,322"/><path class="t" d="M1130.8,129.1 Q1122.6,175 1118.5,235 Q1116.6,270 1116,318"/><path class="k" d="M1083.9,278.5 L1085.2,290 L1092,299.4"/><path class="n" d="M1092,299.4 L1091.6,304.3 L1092.7,315.9 L1121.3,354.3 H1170.5"/><path class="n" d="M1091.6,304.3 L1099.4,305.6 L1099.2,311 L1127.2,349.4"/><path class="t" d="M1092.7,315.9 L1099.2,311 M1096.6,314 L1124.7,351.8"/><path class="n" d="M1111.1,318 V324.3 Q1111.3,333 1116.9,333.6 L1127.9,346.6 L1128.6,348.2 H1170.5 M1117.2,318 V333.6 M1111.1,324.3 H1117.2"/><path class="t" d="M1122,353.8 L1127.9,346.6"/><path class="k" d="M1097.6,321.9 L1102.2,322.4" style="stroke-width:2.2"/><path class="k" d="M1101.7,327.4 L1106.3,327.9" style="stroke-width:2.2"/><path class="k" d="M1105.8,332.9 L1110.4,333.4" style="stroke-width:2.2"/><path class="k" d="M1109.9,338.4 L1114.5,338.9" style="stroke-width:2.2"/><path class="k" d="M1113.7,343.6 L1118.3,344.1" style="stroke-width:2.2"/><circle cx="1105.3" cy="300.7" r="3.9" class="k w"/><circle cx="1105.3" cy="300.7" r="1.9" class="n"/><path d="M1081,179.1 H1088.6 L1084.4,234.7 L1081.6,232 Z" fill="#4a4a4a" stroke="#000" stroke-width="0.8"/><path d="M1083.3,181 L1083.2,228 M1085.6,181 L1084.6,222" stroke="#bbb" stroke-width="0.5" fill="none"/>
<g transform="translate(2341.0,0) scale(-1,1)"><path class="n" d="M1170.5,50.3 H1117.7 L1110.2,80.7 L1105.8,100.5 M1110.2,80.7 H1170.5"/><path class="n" d="M1129.6,50.3 L1123,80.7 Q1111,128 1106.4,170 Q1102.4,232 1101.2,309"/><path class="t" d="M1121.2,88 Q1109.4,130 1104.6,170 Q1099.4,232 1097.4,309"/><path class="n" d="M1105.5,100.4 H1113.2 M1105.5,100.4 L1099,107.4 L1091.3,150.7 L1089.6,170 Q1085.6,230 1083.9,278.5"/><path class="n" d="M1111.4,103.3 L1103.1,109.2 L1095.6,151.9 L1094.4,170 Q1090.4,230 1088.6,283 L1097,301"/><path class="k" d="M1113.2,100.4 L1104,166" style="stroke-width:1.7"/><path class="k" d="M1097.3,116.9 h4.3" style="stroke-width:2.7"/><path class="k" d="M1096.3,122.4 h4.3" style="stroke-width:2.7"/><path class="k" d="M1095.4,127.8 h4.3" style="stroke-width:2.7"/><path class="k" d="M1094.4,133.2 h4.3" style="stroke-width:2.7"/><path class="k" d="M1093.4,138.7 h4.3" style="stroke-width:2.7"/><path class="k" d="M1092.5,144.2 h4.3" style="stroke-width:2.7"/><path class="k" d="M1091.5,149.6 h4.3" style="stroke-width:2.7"/><path class="n" d="M1170.5,110.8 H1127.8 L1132.6,129.1 H1170.5"/><path class="n" d="M1127.8,110.8 Q1119,170 1114.6,235 Q1112.4,270 1111.1,318"/><path class="n" d="M1132.6,129.1 Q1124.5,175 1120.4,235 Q1118.4,270 1117.2,318"/><path class="t" d="M1129.6,112 Q1121,170 1116.6,235 Q1114.4,270 1113.4,322"/><path class="t" d="M1130.8,129.1 Q1122.6,175 1118.5,235 Q1116.6,270 1116,318"/><path class="k" d="M1083.9,278.5 L1085.2,290 L1092,299.4"/><path class="n" d="M1092,299.4 L1091.6,304.3 L1092.7,315.9 L1121.3,354.3 H1170.5"/><path class="n" d="M1091.6,304.3 L1099.4,305.6 L1099.2,311 L1127.2,349.4"/><path class="t" d="M1092.7,315.9 L1099.2,311 M1096.6,314 L1124.7,351.8"/><path class="n" d="M1111.1,318 V324.3 Q1111.3,333 1116.9,333.6 L1127.9,346.6 L1128.6,348.2 H1170.5 M1117.2,318 V333.6 M1111.1,324.3 H1117.2"/><path class="t" d="M1122,353.8 L1127.9,346.6"/><path class="k" d="M1097.6,321.9 L1102.2,322.4" style="stroke-width:2.2"/><path class="k" d="M1101.7,327.4 L1106.3,327.9" style="stroke-width:2.2"/><path class="k" d="M1105.8,332.9 L1110.4,333.4" style="stroke-width:2.2"/><path class="k" d="M1109.9,338.4 L1114.5,338.9" style="stroke-width:2.2"/><path class="k" d="M1113.7,343.6 L1118.3,344.1" style="stroke-width:2.2"/><circle cx="1105.3" cy="300.7" r="3.9" class="k w"/><circle cx="1105.3" cy="300.7" r="1.9" class="n"/><path d="M1081,179.1 H1088.6 L1084.4,234.7 L1081.6,232 Z" fill="#4a4a4a" stroke="#000" stroke-width="0.8"/><path d="M1083.3,181 L1083.2,228 M1085.6,181 L1084.6,222" stroke="#bbb" stroke-width="0.5" fill="none"/></g>
<path class="n" d="M1170.5,50.3 V354.6"/>
<circle cx="1182.2" cy="195.9" r="0.8" class="f"/>
<rect x="1121.6" y="274.6" width="97.8" height="70.6" rx="3.5" class="k w"/>
<rect x="1123.70" y="276.90" width="93.60" height="5" rx="1.6" class="f"/>
<path d="M1125.20,279.40 H1215.80" stroke="#9a9a9a" stroke-width="0.7" fill="none"/>
<rect x="1123.70" y="283.45" width="93.60" height="5" rx="1.6" class="f"/>
<path d="M1125.20,285.95 H1215.80" stroke="#9a9a9a" stroke-width="0.7" fill="none"/>
<rect x="1123.70" y="290.00" width="93.60" height="5" rx="1.6" class="f"/>
<path d="M1125.20,292.50 H1215.80" stroke="#9a9a9a" stroke-width="0.7" fill="none"/>
<rect x="1123.70" y="296.55" width="93.60" height="5" rx="1.6" class="f"/>
<path d="M1125.20,299.05 H1215.80" stroke="#9a9a9a" stroke-width="0.7" fill="none"/>
<rect x="1123.70" y="303.10" width="93.60" height="5" rx="1.6" class="f"/>
<path d="M1125.20,305.60 H1215.80" stroke="#9a9a9a" stroke-width="0.7" fill="none"/>
<rect x="1123.70" y="309.65" width="93.60" height="5" rx="1.6" class="f"/>
<path d="M1125.20,312.15 H1215.80" stroke="#9a9a9a" stroke-width="0.7" fill="none"/>
<rect x="1123.70" y="316.20" width="93.60" height="5" rx="1.6" class="f"/>
<path d="M1125.20,318.70 H1215.80" stroke="#9a9a9a" stroke-width="0.7" fill="none"/>
<rect x="1123.70" y="322.75" width="93.60" height="5" rx="1.6" class="f"/>
<path d="M1125.20,325.25 H1215.80" stroke="#9a9a9a" stroke-width="0.7" fill="none"/>
<rect x="1125.20" y="329.30" width="90.60" height="5" rx="1.6" class="f"/>
<path d="M1126.70,331.80 H1214.30" stroke="#9a9a9a" stroke-width="0.7" fill="none"/>
<rect x="1126.70" y="335.85" width="87.60" height="5" rx="1.6" class="f"/>
<path d="M1128.20,338.35 H1212.80" stroke="#9a9a9a" stroke-width="0.7" fill="none"/>
<path class="n" d="M1170.5,275 V354.6"/>
<path class="k" d="M1080.3,318 L1123.3,363.2 H1217.7 L1260.7,318" style="stroke-width:2.4"/>
</g>
<g transform="translate(926,-17.8)"><g>
<path class="n" d="M142,195.7 H154.3 M142,195.7 L129,210.4 L125.2,270 L123.4,298 L123.2,377.5 L136.4,405.5 Q140,412.6 146.5,413.4"/><path class="k" d="M154.3,195.9 H142 L129,210.6 L127.6,232" style="stroke-width:1.8"/><path class="n" d="M143.8,208.2 L132.8,217.3 L128.4,262 L125.8,297 L125.7,377 L138.6,404 Q141.5,410 147.5,411.4"/><path class="k" d="M124.5,300 V375" style="stroke-width:2.2"/><path class="t" d="M142,195.7 L143.8,208.2 H154.3 M143.8,208.2 V195.7"/><path class="t" d="M141.2,200 L139.4,262 L135.4,341 L135.3,380 L137.4,398 Q138.6,405 141.5,408.5"/><path class="t" d="M140.6,262 L136.8,335"/><path class="n" d="M148.5,195.7 V371 L158.8,382.8 V413.4"/><path class="t" d="M150.6,195.7 V336"/>
<g transform="translate(489.0,0) scale(-1,1)"><path class="n" d="M142,195.7 H154.3 M142,195.7 L129,210.4 L125.2,270 L123.4,298 L123.2,377.5 L136.4,405.5 Q140,412.6 146.5,413.4"/><path class="k" d="M154.3,195.9 H142 L129,210.6 L127.6,232" style="stroke-width:1.8"/><path class="n" d="M143.8,208.2 L132.8,217.3 L128.4,262 L125.8,297 L125.7,377 L138.6,404 Q141.5,410 147.5,411.4"/><path class="k" d="M124.5,300 V375" style="stroke-width:2.2"/><path class="t" d="M142,195.7 L143.8,208.2 H154.3 M143.8,208.2 V195.7"/><path class="t" d="M141.2,200 L139.4,262 L135.4,341 L135.3,380 L137.4,398 Q138.6,405 141.5,408.5"/><path class="t" d="M140.6,262 L136.8,335"/><path class="n" d="M148.5,195.7 V371 L158.8,382.8 V413.4"/><path class="t" d="M150.6,195.7 V336"/></g>
<rect x="337.2" y="251" width="3.4" height="21.6" rx="0.8" fill="#222"/>
<rect x="338.2" y="253.2" width="1.5" height="1" fill="#ddd"/>
<rect x="338.2" y="255.7" width="1.5" height="1" fill="#ddd"/>
<rect x="338.2" y="258.2" width="1.5" height="1" fill="#ddd"/>
<path class="k" d="M360.4,252.8 V256.8"/>
<path class="k" d="M154.1,195.7 V368.2 L172,388.4 H317 L334.9,368.2 V195.7" style="stroke-width:2.4"/>
<path class="k" d="M146,411.4 H343" style="stroke-width:1.5"/>
<circle cx="184.0" cy="401.8" r="2.7" class="f"/>
<circle cx="244.5" cy="401.8" r="2.7" class="f"/>
<circle cx="305.0" cy="401.8" r="2.7" class="f"/>
<path class="n" d="M214.2,414.6 L225.4,420.8 H263.4 L268.6,416.4"/>
<path class="k" d="M215,414.9 H274" style="stroke:#333"/>
<path d="M272,416 H292.5" stroke="#333" stroke-width="1.7" fill="none"/>
<ellipse cx="238.4" cy="417.8" rx="2.6" ry="1.2" class="n"/>
<path class="k" d="M226,417 H234 M243,417 H251"/>
<path class="k" d="M179.8,422.2 H170.5 L164.4,430.6 Q163.5,432 163.5,434 V463 Q164,472.6 171,475.4 L177.2,476.8"/><path class="n" d="M170.5,422.2 V475.2"/><path class="k" d="M177,422.2 V476.8" style="stroke-width:1.5"/><path class="k" d="M181.3,476.8 V423 Q181.3,421 183.3,421 H193.2 Q195.2,421 195.2,423 V476.8"/><path class="k" d="M198.4,422.9 V469.2"/><path class="n" d="M163.5,440.1 H181.3 M195.2,440.1 H206.3"/><path class="t" d="M181.3,460.8 H195.2 M181.3,468.6 H195.2"/><path class="n" d="M170.5,458 Q170.8,467.4 177,468.9"/><path class="n" d="M163.5,450.6 H151.2 Q148,450.6 148,453.6 V462 Q148,465 151.2,465 H163.5 M151,450.6 V465 M163.5,452.2 H151"/><rect x="182.4" y="469.4" width="11.8" height="6.2" rx="2.4" class="f"/><circle cx="185.4" cy="472.4" r="1.2" fill="#fff"/><circle cx="191" cy="472.4" r="1.2" fill="#fff"/><path class="n" d="M184,477.6 L186.5,487.8 M198.4,477.6 L196.7,487.8"/><path class="k" d="M186.5,489 H211.5" style="stroke-width:2.2;stroke:#444"/><path class="n" d="M186.3,488.6 V500.2 H211.6 V488.6 M186.3,493.4 H211.6 M186.3,496 H211.6"/><path class="k" d="M198.8,494 V503.8"/><rect x="194.6" y="493.8" width="8.6" height="2.4" rx="1.2" class="n w"/><rect x="197.3" y="490.6" width="3" height="2" fill="#fff" stroke="#000" stroke-width="0.8"/>
<g transform="translate(489.0,0) scale(-1,1)"><path class="k" d="M179.8,422.2 H170.5 L164.4,430.6 Q163.5,432 163.5,434 V463 Q164,472.6 171,475.4 L177.2,476.8"/><path class="n" d="M170.5,422.2 V475.2"/><path class="k" d="M177,422.2 V476.8" style="stroke-width:1.5"/><path class="k" d="M181.3,476.8 V423 Q181.3,421 183.3,421 H193.2 Q195.2,421 195.2,423 V476.8"/><path class="k" d="M198.4,422.9 V469.2"/><path class="n" d="M163.5,440.1 H181.3 M195.2,440.1 H206.3"/><path class="t" d="M181.3,460.8 H195.2 M181.3,468.6 H195.2"/><path class="n" d="M170.5,458 Q170.8,467.4 177,468.9"/><path class="n" d="M163.5,450.6 H151.2 Q148,450.6 148,453.6 V462 Q148,465 151.2,465 H163.5 M151,450.6 V465 M163.5,452.2 H151"/><rect x="182.4" y="469.4" width="11.8" height="6.2" rx="2.4" class="f"/><circle cx="185.4" cy="472.4" r="1.2" fill="#fff"/><circle cx="191" cy="472.4" r="1.2" fill="#fff"/><path class="n" d="M184,477.6 L186.5,487.8 M198.4,477.6 L196.7,487.8"/><path class="k" d="M186.5,489 H211.5" style="stroke-width:2.2;stroke:#444"/><path class="n" d="M186.3,488.6 V500.2 H211.6 V488.6 M186.3,493.4 H211.6 M186.3,496 H211.6"/><path class="k" d="M198.8,494 V503.8"/><rect x="194.6" y="493.8" width="8.6" height="2.4" rx="1.2" class="n w"/><rect x="197.3" y="490.6" width="3" height="2" fill="#fff" stroke="#000" stroke-width="0.8"/></g>
<rect x="181.9" y="436.4" width="11.3" height="24.3" fill="#000"/><rect x="183.80" y="438.60" width="1.1" height="1.2" fill="#fff"/><rect x="187.05" y="438.60" width="1.1" height="1.2" fill="#fff"/><rect x="190.30" y="438.60" width="1.1" height="1.2" fill="#fff"/><rect x="183.80" y="441.85" width="1.1" height="1.2" fill="#fff"/><rect x="187.05" y="441.85" width="1.1" height="1.2" fill="#fff"/><rect x="190.30" y="441.85" width="1.1" height="1.2" fill="#fff"/><rect x="183.80" y="445.10" width="1.1" height="1.2" fill="#fff"/><rect x="187.05" y="445.10" width="1.1" height="1.2" fill="#fff"/><rect x="190.30" y="445.10" width="1.1" height="1.2" fill="#fff"/><rect x="183.80" y="448.35" width="1.1" height="1.2" fill="#fff"/><rect x="187.05" y="448.35" width="1.1" height="1.2" fill="#fff"/><rect x="190.30" y="448.35" width="1.1" height="1.2" fill="#fff"/><rect x="183.80" y="451.60" width="1.1" height="1.2" fill="#fff"/><rect x="187.05" y="451.60" width="1.1" height="1.2" fill="#fff"/><rect x="190.30" y="451.60" width="1.1" height="1.2" fill="#fff"/><rect x="183.80" y="454.85" width="1.1" height="1.2" fill="#fff"/><rect x="187.05" y="454.85" width="1.1" height="1.2" fill="#fff"/><rect x="190.30" y="454.85" width="1.1" height="1.2" fill="#fff"/><rect x="183.80" y="458.10" width="1.1" height="1.2" fill="#fff"/><rect x="187.05" y="458.10" width="1.1" height="1.2" fill="#fff"/><rect x="190.30" y="458.10" width="1.1" height="1.2" fill="#fff"/><rect x="295.8" y="436.4" width="11.3" height="24.3" fill="#000"/><rect x="297.70" y="438.60" width="1.1" height="1.2" fill="#fff"/><rect x="300.95" y="438.60" width="1.1" height="1.2" fill="#fff"/><rect x="304.20" y="438.60" width="1.1" height="1.2" fill="#fff"/><rect x="297.70" y="441.85" width="1.1" height="1.2" fill="#fff"/><rect x="300.95" y="441.85" width="1.1" height="1.2" fill="#fff"/><rect x="304.20" y="441.85" width="1.1" height="1.2" fill="#fff"/><rect x="297.70" y="445.10" width="1.1" height="1.2" fill="#fff"/><rect x="300.95" y="445.10" width="1.1" height="1.2" fill="#fff"/><rect x="304.20" y="445.10" width="1.1" height="1.2" fill="#fff"/><rect x="297.70" y="448.35" width="1.1" height="1.2" fill="#fff"/><rect x="300.95" y="448.35" width="1.1" height="1.2" fill="#fff"/><rect x="304.20" y="448.35" width="1.1" height="1.2" fill="#fff"/><rect x="297.70" y="451.60" width="1.1" height="1.2" fill="#fff"/><rect x="300.95" y="451.60" width="1.1" height="1.2" fill="#fff"/><rect x="304.20" y="451.60" width="1.1" height="1.2" fill="#fff"/><rect x="297.70" y="454.85" width="1.1" height="1.2" fill="#fff"/><rect x="300.95" y="454.85" width="1.1" height="1.2" fill="#fff"/><rect x="304.20" y="454.85" width="1.1" height="1.2" fill="#fff"/><rect x="297.70" y="458.10" width="1.1" height="1.2" fill="#fff"/><rect x="300.95" y="458.10" width="1.1" height="1.2" fill="#fff"/><rect x="304.20" y="458.10" width="1.1" height="1.2" fill="#fff"/>
<path class="k" d="M198.4,422.9 H290.6"/>
<path class="k" d="M195.2,469.2 H293.8"/>
<path class="h" d="M177.2,477 H311.8" style="stroke-width:2.2"/>
<path class="t" d="M184,479.6 H216 M224,479.6 H264 M272,479.6 H305"/>
<rect x="206.2" y="432.2" width="77" height="35.4" rx="5" class="k" style="stroke-width:2"/>
<rect x="221.2" y="438.2" width="30.2" height="22.6" rx="3.2" class="f"/>
<rect x="225.6" y="442.2" width="21.8" height="14.3" fill="#fff"/>
<circle cx="218.6" cy="445" r="1.9" class="n" style="stroke-width:1"/>
<path d="M223,462.8 H229" stroke="#666" stroke-width="2" fill="none" stroke-dasharray="1.2 .6"/>
<path d="M229,462.6 H249" stroke="#111" stroke-width="3.6" fill="none" stroke-dasharray="3.4 0.5"/>
<circle cx="256.2" cy="439.2" r="4.2" class="f"/>
<circle cx="264.0" cy="441.8" r="4.0" class="f"/>
<circle cx="255.9" cy="449.9" r="4.4" class="f"/>
<circle cx="270.4" cy="449.9" r="4.6" class="f"/>
<circle cx="263.4" cy="456.9" r="4.3" class="f"/>
<circle cx="263.4" cy="449.6" r="4.3" class="f"/>
<circle cx="263.8" cy="445.6" r="3.2" class="f"/>
<path class="n" d="M199,480.4 H290"/><path class="k" d="M197,487.4 H292"/>
</g></g>
<g class="dim" opacity="0.999">
<path d="M123.2,35 V345 M366.2,35 V345"/>
<path d="M123.2,49.3 H195.3 M286,49.3 H366.2"/>
<polygon points="123.2,49.3 133.8,46.4 133.8,52.2" class="af"/>
<polygon points="366.2,49.3 355.6,46.4 355.6,52.2" class="af"/>
<text transform="translate(203.0,54.3) scale(1.10,1)" x="0.00 9.36 18.73 28.55 36.99" class="dt" font-size="17.6">481.2</text>
<text transform="translate(262.4,54.3) scale(0.66,1)" x="0.00 15.92" class="dt" font-size="17.6">mm</text>
<path d="M156.6,87 V252 M332.3,87 V252"/>
<path d="M156.6,94.8 H204 M284,94.8 H332.3"/>
<polygon points="156.6,94.8 167.2,91.9 167.2,97.7" class="af"/>
<polygon points="332.3,94.8 321.7,91.9 321.7,97.7" class="af"/>
<text transform="translate(204.6,98.9) scale(1.10,1)" x="0.00 9.36 18.73 28.55 36.99" class="dt" font-size="17.6">348.2</text>
<text transform="translate(255.6,98.9) scale(0.66,1)" x="0.00 15.92" class="dt" font-size="17.6">mm</text>
<path d="M244.5,150.7 H416.2 M244.5,298.1 H416.2"/>
<path d="M409.5,150.7 V214.2 M409.5,235.5 V298.1"/>
<polygon points="409.5,150.7 406.6,161.3 412.4,161.3" class="af"/>
<polygon points="409.5,298.1 406.6,287.5 412.4,287.5" class="af"/>
<text transform="translate(381.0,230.7) scale(1.10,1)" x="0.00 9.36 18.73 28.55 36.99" class="dt" font-size="17.6">293.5</text>
<text transform="translate(440.4,230.7) scale(0.66,1)" x="0.00 15.92" class="dt" font-size="17.6">mm</text>
<path d="M48.9,195.7 H142 M48.9,413.5 H350"/>
<path d="M62.5,195.7 V290.8 M62.5,314.5 V413.5"/>
<polygon points="62.5,195.7 59.6,206.3 65.4,206.3" class="af"/>
<polygon points="62.5,413.5 59.6,402.9 65.4,402.9" class="af"/>
<text transform="translate(26.4,308.1) scale(1.10,1)" x="0.00 9.36 18.73 28.55 36.99" class="dt" font-size="17.6">432.0</text>
<text transform="translate(85.8,308.1) scale(0.66,1)" x="0.00 15.92" class="dt" font-size="17.6">mm</text>
<path d="M147.9,456 V540.7 M340.9,456 V540.7"/>
<path d="M147.9,528.2 H202.1 M285.9,528.2 H340.9"/>
<polygon points="147.9,528.2 158.5,525.3 158.5,531.1" class="af"/>
<polygon points="340.9,528.2 330.3,525.3 330.3,531.1" class="af"/>
<text transform="translate(204.0,531.7) scale(1.10,1)" x="0.00 9.36 18.73 28.55 36.99" class="dt" font-size="17.6">382.5</text>
<text transform="translate(263.4,531.7) scale(0.66,1)" x="0.00 15.92" class="dt" font-size="17.6">mm</text>
<path d="M544.9,39 V172.5 M849.5,39 V224.7"/>
<path d="M544.9,49.4 H653.5 M741.3,49.4 H849.5"/>
<polygon points="544.9,49.4 555.5,46.5 555.5,52.3" class="af"/>
<polygon points="849.5,49.4 838.9,46.5 838.9,52.3" class="af"/>
<text transform="translate(655.4,54.2) scale(1.10,1)" x="0.00 9.36 18.73 28.55 36.99" class="dt" font-size="17.6">605.0</text>
<text transform="translate(714.8,54.2) scale(0.66,1)" x="0.00 15.92" class="dt" font-size="17.6">mm</text>
<path d="M700,150.7 H932.7 M762.4,488.6 H932.7"/>
<path d="M907.9,150.7 V301.1 M907.9,338.6 V488.6"/>
<polygon points="907.9,150.7 905.0,161.3 910.8,161.3" class="af"/>
<polygon points="907.9,488.6 905.0,478.0 910.8,478.0" class="af"/>
<text transform="translate(882.2,325.3) scale(1.10,1)" x="0.00 9.36 18.73 28.55 36.99" class="dt" font-size="17.6">671.2</text>
<text transform="translate(941.6,325.3) scale(0.66,1)" x="0.00 15.92" class="dt" font-size="17.6">mm</text>
<path d="M619.3,468 V547.5 M783.8,468 V547.5"/>
<path d="M619.3,547.5 H662.8 M745.3,547.5 H783.8"/>
<polygon points="619.3,547.5 629.9,544.6 629.9,550.4" class="af"/>
<polygon points="783.8,547.5 773.2,544.6 773.2,550.4" class="af"/>
<text transform="translate(663.8,551.5) scale(1.10,1)" x="0.00 9.36 18.73 28.55 36.99" class="dt" font-size="17.6">325.7</text>
<text transform="translate(723.2,551.5) scale(0.66,1)" x="0.00 15.92" class="dt" font-size="17.6">mm</text>
<path d="M1182.9,48.4 H1350.4 M1187.9,481.6 H1350.4"/>
<path d="M1330.1,48.4 V253.8 M1330.1,274.5 V481.6"/>
<polygon points="1330.1,48.4 1327.2,59.0 1333.0,59.0" class="af"/>
<polygon points="1330.1,481.6 1327.2,471.0 1333.0,471.0" class="af"/>
<text transform="translate(1297.8,270.5) scale(1.10,1)" x="0.00 9.36 18.73 28.55 36.99" class="dt" font-size="17.6">835.5</text>
<text transform="translate(1357.2,270.5) scale(0.66,1)" x="0.00 15.92" class="dt" font-size="17.6">mm</text>
</g>
</svg>
</body></html>
